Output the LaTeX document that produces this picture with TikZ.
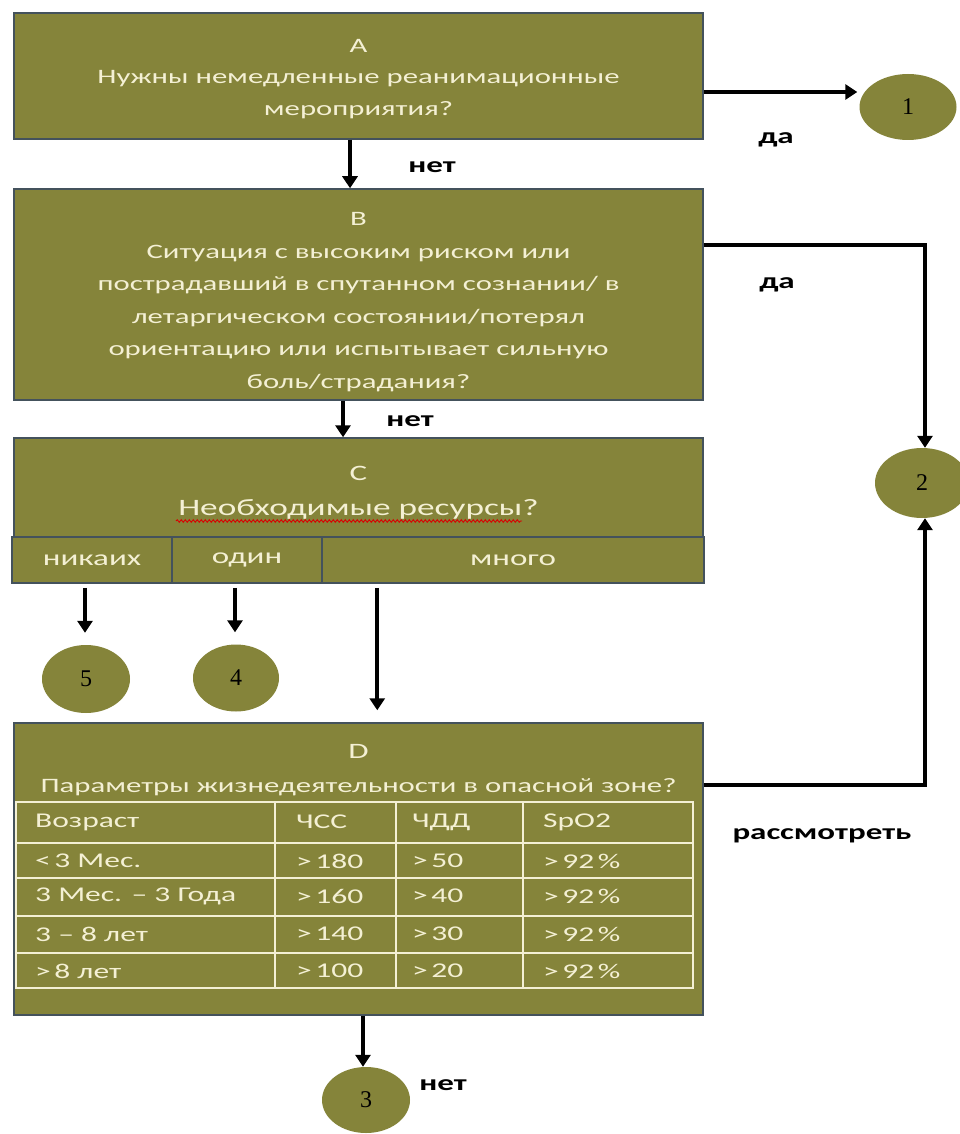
\documentclass[tikz,border=0pt]{standalone}
\usepackage{fontspec}
\newfontfamily\calf[FakeStretch=1.5]{Carlito}
\newfontfamily\tms{Liberation Serif}
\usetikzlibrary{arrows.meta,shapes.geometric,decorations.pathmorphing,calc}
\definecolor{boxfill}{HTML}{85843A}
\definecolor{boxline}{HTML}{44525C}
\definecolor{cream}{HTML}{F4F0D4}
\tikzset{
  box/.style={draw=boxline, line width=1.5pt, fill=boxfill, rectangle, inner sep=0pt},
  btxt/.style={text=cream, align=center, inner sep=0pt},
  circ/.style={ellipse, fill=boxfill, inner sep=0pt, font=\tms\fontsize{24}{26}\selectfont},
  arr/.style={line width=4pt, -{Triangle[length=12pt,width=15pt]}},
  lbl/.style={font=\calf\bfseries\fontsize{22}{24}\selectfont, inner sep=0pt},
  tline/.style={draw=cream, line width=1.8pt},
  ttxt/.style={text=cream, anchor=west, inner sep=0pt, font=\calf\fontsize{21}{24}\selectfont},
  ctxt/.style={text=cream, font=\calf\fontsize{22}{24}\selectfont}
}
\begin{document}
\begin{tikzpicture}[x=1pt,y=-1pt]
\fill[white] (0,0) rectangle (959,1134);
\useasboundingbox (0,0) rectangle (959,1134);

% Box A
\node[box, minimum width=689pt, minimum height=126pt] (A) at (358.5,76) {};
\node[btxt, font=\calf\fontsize{20.5}{31.5}\selectfont] (At) at (358.5,79) {A\\Нужны немедленные реанимационные\\мероприятия?};

% Box B
\node[box, minimum width=689pt, minimum height=211pt] (B) at (358.5,294.5) {};
\node[btxt, font=\calf\fontsize{20.5}{32.5}\selectfont] (Bt) at (358.5,302) {B\\Ситуация с высоким риском или\\пострадавший в спутанном сознании/ в\\летаргическом состоянии/потерял\\ориентацию или испытывает сильную\\боль/страдания?};

% Box C
\node[box, minimum width=689pt, minimum height=99pt] (C) at (358.5,487.5) {};
\node[btxt, font=\calf\fontsize{22}{24}\selectfont] (Ct1) at (358.5,473) {C};
\node[btxt, font=\calf\fontsize{23.5}{26}\selectfont] (Ct2) at (358.5,509) {Необходимые ресурсы?};
\draw[red!85!black, line width=0.9pt, decorate, decoration={snake, amplitude=1.3pt, segment length=4pt}] (176,521) -- (522,521);

% C sub cells
\node[box, minimum width=160pt, minimum height=46pt, ctxt] (c1) at (92,560) {никаих};
\node[box, minimum width=150pt, minimum height=46pt, ctxt] (c2) at (247,560) {один};
\node[box, minimum width=382pt, minimum height=46pt, ctxt] (c3) at (513,560) {много};

% Box D
\node[box, minimum width=689pt, minimum height=292pt] (D) at (358.5,869) {};
\node[btxt, font=\calf\fontsize{22}{24}\selectfont] (Dt1) at (358.5,751) {D};
\node[btxt, font=\calf\fontsize{20.5}{24}\selectfont] (Dt2) at (358.5,787) {Параметры жизнедеятельности в опасной зоне?};

% table
\draw[tline] (16,802) rectangle (693,988);
\foreach \yy in {843,878,916,953} \draw[tline] (16,\yy) -- (693,\yy);
\foreach \xx in {275,396,523} \draw[tline] (\xx,802) -- (\xx,988);
\node[ttxt] at (35,822) {Возраст};
\node[ttxt] at (296,822) {ЧСС};
\node[ttxt] at (412,822) {ЧДД};
\node[ttxt] at (543,822) {SpO2};
\node[ttxt] at (35,861) {<\,3 Мес.};
\node[ttxt] at (35,896) {3 Мес. – 3 Года};
\node[ttxt] at (35,934) {3 – 8 лет};
\node[ttxt] at (35,971) {>\,8 лет};
\node[ttxt] at (296,861) {>\,180};
\node[ttxt] at (296,896) {>\,160};
\node[ttxt] at (296,934) {>\,140};
\node[ttxt] at (296,971) {>\,100};
\node[ttxt] at (412,861) {>\,50};
\node[ttxt] at (412,896) {>\,40};
\node[ttxt] at (412,934) {>\,30};
\node[ttxt] at (412,971) {>\,20};
\foreach \yy in {861,896,934,971} \node[ttxt] at (543,\yy) {>\,92\,\%};

% circles
\node[circ, minimum width=97pt, minimum height=66pt] (n1) at (908,107) {1};
\node[circ, minimum width=94pt, minimum height=70pt] (n2) at (922,483) {2};
\node[circ, minimum width=88pt, minimum height=66pt] (n3) at (366,1100) {3};
\node[circ, minimum width=86pt, minimum height=67pt] (n4) at (236,678) {4};
\node[circ, minimum width=88pt, minimum height=68pt] (n5) at (86,679) {5};

% connectors
\draw[arr] ([yshift=-16pt]A.east) -- ([yshift=-16pt,xshift=-2pt]A.east -| n1.west);
\draw[arr] ([xshift=-8.5pt]A.south) -- ([xshift=-8.5pt]A.south |- B.north);
\draw[arr] ([xshift=-15.5pt]B.south) -- ([xshift=-15.5pt]B.south |- C.north);
\draw[arr] (B.east |- 0,245) -| ([xshift=3pt]n2.north);
\draw[arr] (D.east |- 0,785) -| ([xshift=3pt]n2.south);
\draw[arr] ([yshift=-4pt,xshift=-1pt]c1.south -| n5) -- ([yshift=12pt,xshift=-1pt]n5.north);
\draw[arr] ([yshift=-4pt,xshift=-1pt]c2.south -| n4) -- ([yshift=12pt,xshift=-1pt]n4.north);
\draw[arr] ([xshift=56pt,yshift=-4pt]c3.south west) -- ([xshift=56pt,yshift=12pt]c3.south west |- D.north);
\draw[arr] ([xshift=-3pt]D.south -| n3) -- ([xshift=-3pt]n3.north);

% labels
\node[lbl] (l1) at (432,167) {нет};
\node[lbl] (l2) at (776,140) {да};
\node[lbl] (l3) at (777,285) {да};
\node[lbl] (l4) at (410,421) {нет};
\node[lbl] (l5) at (822,836) {рассмотреть};
\node[lbl] (l6) at (443,1085) {нет};
\end{tikzpicture}
\end{document}
